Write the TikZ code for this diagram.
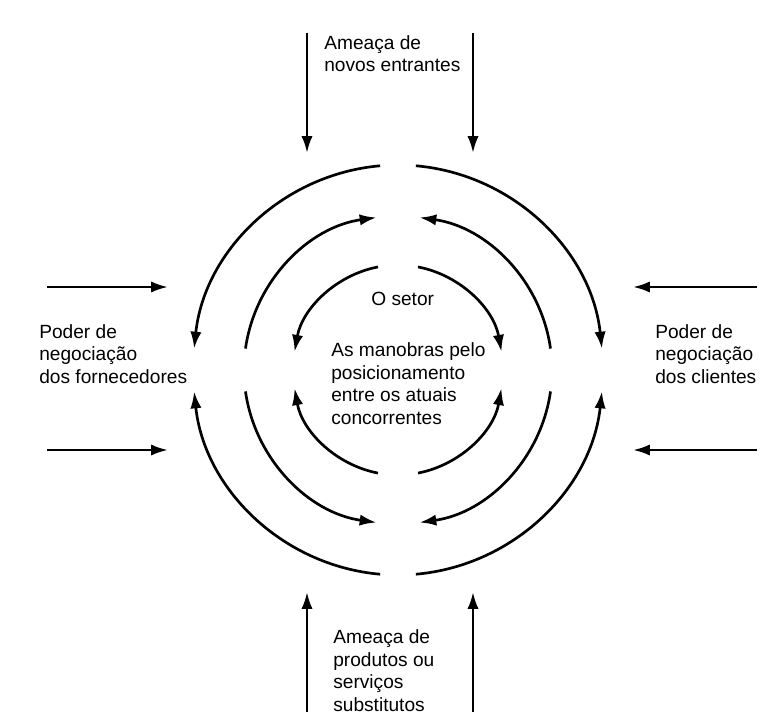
\documentclass[tikz,border=0pt]{standalone}
\usepackage{fontspec}
\setmainfont{Liberation Sans}
\usetikzlibrary{arrows.meta}
\tikzset{every picture/.style={line width=1.9pt, x=0.025cm, y=0.025cm}}
\tikzset{force/.style={-{Latex[length=12pt,width=8pt]}}}
\tikzset{every node/.style={align=left, anchor=base west, inner sep=0pt, font=\fontsize{13.6}{16}\selectfont}}

\begin{document}
\begin{tikzpicture}
\clip (-398,-341) rectangle (362,370);
% rings of rivalry
\foreach \a/\b/\r in {95/174/205, 85/6/205, 265/186/205, 275/354/205,
                      172/98/154, 8/82/154, 188/262/154, 352/278/154,
                      101/170/105, 79/10/105, 259/190/105, 281/350/105}
  \draw[force] (\a:\r) arc[start angle=\a, end angle=\b, radius=\r];
% outside forces
\foreach \x in {-91,75} {
\draw[force] (\x,337) -- (\x,217);
\draw[force] (\x,-345) -- (\x,-222);
}
\foreach \y in {83,-80} {
\draw[force] (-351,\y) -- (-230,\y);
\draw[force] (359,\y) -- (235,\y);
}
% node base = last line
\node (entrantes) at (-75,298) {Ameaça de\\novos entrantes};
\node (fornecedores) at (-360,-13) {Poder de\\negociação\\dos fornecedores};
\node (clientes) at (256,-13) {Poder de\\negociação\\dos clientes};
\node (setor) at (-28,65) {O setor};
\node (manobras) at (-68,-54) {As manobras pelo\\posicionamento\\entre os atuais\\concorrentes};
\node (substitutos) at (-66,-341) {Ameaça de\\produtos ou\\serviços\\substitutos};
\end{tikzpicture}
\end{document}
